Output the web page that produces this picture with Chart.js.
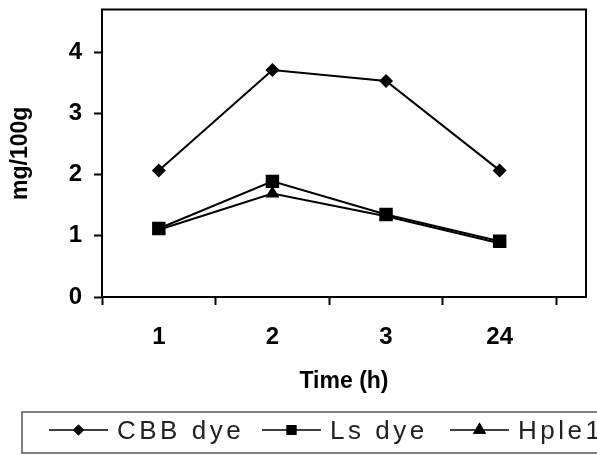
<!DOCTYPE html>
<html>
<head>
<meta charset="utf-8">
<script src="https://cdn.jsdelivr.net/npm/chart.js@4/dist/chart.umd.min.js"></script>
<style>
html,body{margin:0;padding:0;background:#fff;}
#wrap{width:597px;height:455px;position:relative;}
</style>
</head>
<body>
<div id="wrap"><canvas id="c" width="597" height="455"></canvas></div>
<script>
const categories = ['1', '2', '3', '24'];
const cbbDye = [2.07, 3.71, 3.53, 2.07];
const lsDye = [1.12, 1.89, 1.35, 0.91];
const hple1 = [1.10, 1.69, 1.32, 0.88];
const yTicks = [0, 1, 2, 3, 4];
const seriesNames = ['CBB dye', 'Ls dye', 'Hple1'];
const markerStyles = ['rectRot', 'rect', 'triangle'];
const markerRadius = [7, 9.5, 8];
const legendRadius = [5.5, 7, 7.5];

function toPoints(arr){ return arr.map((v,i)=>({x:i+1, y:v})); }

const FONT = "'Liberation Sans', Arial, sans-serif";

const frame = {
  id:'frame',
  afterDraw(chart){
    const ctx = chart.ctx, a = chart.chartArea;
    ctx.save();
    ctx.strokeStyle = '#000';
    ctx.lineWidth = 2;
    ctx.strokeRect(a.left, a.top, a.right - a.left, a.bottom - a.top);
    ctx.restore();
  }
};

const boxLegend = {
  id:'boxLegend',
  afterDraw(chart){
    const ctx = chart.ctx;
    ctx.save();
    ctx.strokeStyle = '#555';
    ctx.lineWidth = 1.5;
    ctx.strokeRect(22, 412, 600, 41);
    const starts = [49, 262, 450];
    const cy = 430;
    ctx.font = "26px " + FONT;
    ctx.letterSpacing = '3.5px';
    ctx.textBaseline = 'middle';
    ctx.textAlign = 'left';
    chart.data.datasets.forEach((ds, i) => {
      const x0 = starts[i];
      ctx.strokeStyle = '#000';
      ctx.lineWidth = 1.5;
      ctx.beginPath(); ctx.moveTo(x0, cy); ctx.lineTo(x0 + 59, cy); ctx.stroke();
      ctx.fillStyle = '#000';
      Chart.helpers.drawPoint(ctx, {pointStyle: markerStyles[i], radius: legendRadius[i], rotation:0, borderWidth:0}, x0 + 29.5, cy);
      ctx.fill();
      ctx.fillStyle = '#222';
      ctx.fillText(ds.label, x0 + 68, cy + 2);
    });
    ctx.restore();
  }
};

const datasets = [cbbDye, lsDye, hple1].map((arr, i) => ({
  label: seriesNames[i],
  data: toPoints(arr),
  borderColor: '#000',
  backgroundColor: '#000',
  borderWidth: 2,
  pointStyle: markerStyles[i],
  pointRadius: markerRadius[i],
  pointBorderWidth: 0,
  pointBackgroundColor: '#000',
  tension: 0,
  fill: false
}));

new Chart(document.getElementById('c'), {
  type: 'line',
  data: { datasets },
  options: {
    responsive: false,
    animation: false,
    devicePixelRatio: 1,
    layout: { padding: { top: 9, right: 11, bottom: 55, left: 0 } },
    plugins: { legend: { display: false }, tooltip: { enabled: false } },
    scales: {
      x: {
        type: 'linear',
        min: 0.5,
        max: 4.76,
        afterBuildTicks(scale){
          scale.ticks = [0.5,1,1.5,2,2.5,3,3.5,4,4.5].map(v => ({value: v}));
        },
        afterFit(scale){ scale.height = 103; scale.paddingLeft = 0; scale.paddingRight = 0; },
        grid: {
          drawOnChartArea: false,
          drawTicks: true,
          tickLength: 8,
          tickWidth: 2,
          tickColor: (c) => (c.tick && Number.isInteger(c.tick.value)) ? 'rgba(0,0,0,0)' : '#000'
        },
        border: { display: true, color: '#000', width: 2 },
        ticks: {
          autoSkip: false,
          maxRotation: 0,
          padding: 18,
          color: '#000',
          font: { family: FONT, size: 24, weight: 'bold' },
          callback: (v) => Number.isInteger(v) ? categories[v - 1] : ''
        },
        title: {
          display: true,
          text: 'Time (h)',
          color: '#000',
          font: { family: FONT, size: 23, weight: 'bold' },
          padding: { top: 0, bottom: 5 }
        }
      },
      y: {
        type: 'linear',
        min: 0,
        max: 4.7,
        afterBuildTicks(scale){ scale.ticks = yTicks.map(v => ({value: v})); },
        afterFit(scale){ scale.width = 102; scale.paddingTop = 0; scale.paddingBottom = 0; },
        grid: {
          drawOnChartArea: false,
          drawTicks: true,
          tickLength: 8,
          tickWidth: 2,
          tickColor: '#000'
        },
        border: { display: true, color: '#000', width: 2 },
        ticks: {
          padding: 12,
          color: '#000',
          font: { family: FONT, size: 24, weight: 'bold' }
        },
        title: {
          display: true,
          text: 'mg/100g',
          color: '#000',
          font: { family: FONT, size: 23, weight: 'bold' },
          padding: { top: 7, bottom: 0 }
        }
      }
    }
  },
  plugins: [frame, boxLegend]
});
</script>
</body>
</html>
